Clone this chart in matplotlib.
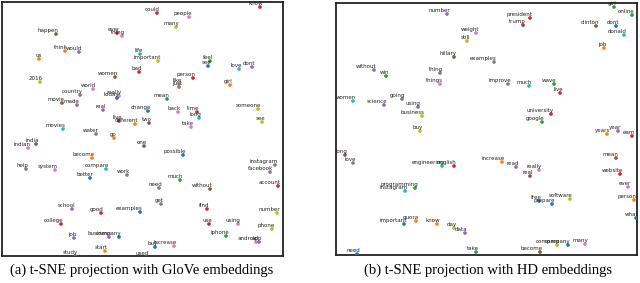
import matplotlib.pyplot as plt

# t-SNE coordinates (arbitrary units, y grows downwards)
glove_words = [
    "could", "happen", "ever", "thing", "think", "would", "us", "life",
    "important", "bad", "women", "2016", "world", "country", "really", "today",
    "movie", "made", "real", "change", "live", "different", "two", "movies",
    "people", "many", "know", "feel", "see", "love", "dont", "person",
    "like", "just", "girl", "mean", "back", "time", "long", "take",
    "someone", "see", "water", "go", "india", "indian", "one", "become",
    "help", "system", "compare", "better", "work", "need", "school", "good",
    "examples", "get", "college", "job", "business", "company", "start", "study",
    "used", "buy", "increase", "possible", "instagram", "facebook", "much", "without",
    "account", "find", "number", "use", "using", "phone", "iphone", "android",
    "app",
]
glove_x = [
    157, 56, 117, 122, 65, 79, 39, 140,
    158, 139, 115, 40, 93, 80, 119, 117,
    62, 77, 103, 148, 119, 135, 149, 63,
    189, 176, 260, 210, 208, 239, 252, 193,
    179, 179, 230, 167, 178, 197, 199, 191,
    258, 262, 96, 114, 36, 28, 144, 92,
    26, 55, 106, 90, 127, 159, 72, 101,
    140, 161, 61, 74, 109, 119, 105, 75,
    146, 155, 174, 183, 275, 270, 180, 210,
    278, 207, 277, 209, 238, 272, 226, 256,
    259,
]
glove_y = [
    13, 34, 33, 36, 51, 52, 59, 54,
    61, 72, 77, 82, 89, 95, 96, 98,
    103, 105, 110, 111, 121, 124, 123, 129,
    17, 27, 7, 61, 66, 69, 67, 78,
    84, 87, 85, 99, 112, 112, 118, 127,
    109, 122, 134, 138, 144, 148, 146, 158,
    169, 170, 169, 178, 175, 188, 209, 213,
    212, 204, 224, 238, 237, 237, 251, 256,
    257, 247, 246, 155, 165, 172, 180, 189,
    186, 209, 213, 224, 224, 229, 236, 242,
    242,
]
glove_cluster = [
    3, 5, 3, 6, 1, 4, 1, 9,
    8, 3, 5, 8, 6, 7, 6, 0,
    5, 4, 4, 0, 5, 1, 5, 9,
    6, 8, 3, 2, 0, 9, 4, 3,
    8, 4, 1, 2, 6, 3, 9, 6,
    8, 8, 7, 1, 5, 6, 5, 1,
    7, 6, 9, 0, 7, 7, 4, 3,
    0, 7, 3, 4, 4, 0, 1, 5,
    5, 0, 6, 0, 7, 4, 2, 5,
    3, 3, 8, 3, 6, 8, 2, 6,
    4,
]

hd_words = [
    "number", "weight", "still", "hillary", "examples", "without", "win", "thing",
    "things", "women", "going", "science", "using", "business", "buy", "president",
    "trump", "girl", "online", "clinton", "dont", "donald", "job", "improve",
    "much", "wave", "live", "university", "google", "years", "year", "earn",
    "increase", "read", "really", "real", "mean", "website", "ever", "person",
    "free", "prepare", "software", "what", "compare", "company", "many", "long",
    "love", "engineering", "english", "programming", "instagram", "important", "quora", "know",
    "day", "data", "need", "take", "become",
]
hd_x = [
    447, 476, 467, 454, 494, 374, 386, 440,
    440, 353, 402, 384, 418, 422, 420, 530,
    523, 614, 632, 596, 616, 624, 604, 508,
    529, 554, 560, 551, 542, 607, 618, 632,
    502, 516, 539, 530, 616, 620, 628, 634,
    539, 552, 570, 636, 557, 568, 585, 345,
    353, 442, 454, 415, 405, 404, 416, 437,
    454, 465, 357, 476, 540,
]
hd_y = [
    14, 33, 41, 57, 62, 70, 76, 73,
    84, 101, 99, 105, 107, 116, 131, 18,
    25, 7, 15, 26, 26, 35, 48, 84,
    86, 84, 93, 114, 122, 134, 131, 136,
    162, 167, 170, 176, 158, 174, 187, 200,
    201, 204, 199, 218, 245, 245, 244, 155,
    163, 166, 166, 188, 191, 224, 221, 224,
    228, 233, 254, 252, 252,
]
hd_cluster = [
    4, 6, 8, 5, 7, 4, 2, 7,
    6, 9, 7, 4, 4, 8, 8, 3,
    3, 2, 2, 5, 0, 9, 1, 7,
    9, 2, 3, 3, 2, 1, 4, 3,
    1, 4, 6, 5, 5, 3, 6, 1,
    0, 0, 8, 0, 8, 0, 6, 5,
    7, 9, 3, 2, 9, 0, 1, 1,
    8, 4, 0, 2, 5,
]

captions = [
    "(a) t-SNE projection with GloVe embeddings",
    "(b) t-SNE projection with HD embeddings",
]

palette = plt.get_cmap("tab10").colors


def draw_panel(ax, words, xs, ys, clusters, xlim, ylim):
    ax.scatter(xs, ys, s=7, c=[palette[k] for k in clusters], linewidths=0, zorder=3)
    for w, x, y in zip(words, xs, ys):
        ax.annotate(w, (x, y), xytext=(2, 0.4), textcoords="offset points",
                    ha="right", va="bottom", fontsize=4, color="#222222",
                    annotation_clip=False, zorder=4)
    ax.set_xlim(*xlim)
    ax.set_ylim(*ylim)
    ax.set_xticks([])
    ax.set_yticks([])
    for sp in ax.spines.values():
        sp.set_linewidth(1.3)
        sp.set_color("#222222")


fig = plt.figure(figsize=(6.4, 2.83), dpi=100)
ax1 = fig.add_axes([2 / 640, 27 / 283, 281 / 640, 254 / 283])
ax2 = fig.add_axes([336 / 640, 28 / 283, 301 / 640, 252 / 283])

draw_panel(ax1, glove_words, glove_x, glove_y, glove_cluster, (2, 283), (256, 2))
draw_panel(ax2, hd_words, hd_x, hd_y, hd_cluster, (336, 637), (255, 3))

fig.text(142 / 640, 0.046, captions[0], ha="center", va="center",
         fontsize=10.5, family="Liberation Serif")
fig.text(488 / 640, 0.046, captions[1], ha="center", va="center",
         fontsize=10.5, family="Liberation Serif")

fig.savefig("out.png", dpi=100)
